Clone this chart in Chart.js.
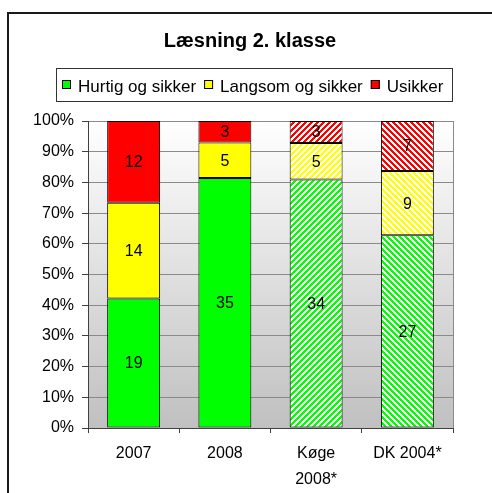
<!DOCTYPE html>
<html>
<head>
<meta charset="utf-8">
<script src="https://cdn.jsdelivr.net/npm/chart.js@4/dist/chart.umd.min.js"></script>
<style>
  html, body { margin: 0; padding: 0; background: #fff; }
  canvas { display: block; }
</style>
</head>
<body>
<canvas id="chart" width="492" height="493"></canvas>
<script>
'use strict';

// counts
const categories = ['2007', '2008', ['Køge', '2008*'], 'DK 2004*'];
const hurtig = [19, 35, 34, 27];
const langsom = [14, 5, 5, 9];
const usikker = [12, 3, 3, 7];
const seriesNames = ['Hurtig og sikker', 'Langsom og sikker', 'Usikker'];
const seriesColors = ['#00ff00', '#ffff00', '#ff0000'];
const hatchKinds = [null, null, 'up', 'down'];
const chartTitle = 'Læsning 2. klasse';

const FONT = 'Arial, "Liberation Sans", sans-serif';
const canvas = document.getElementById('chart');
const ctx = canvas.getContext('2d');

function hatch(color, dir) {
    const size = 6;
    const tile = document.createElement('canvas');
    tile.width = tile.height = size;
    const g = tile.getContext('2d');
    g.fillStyle = '#fff';
    g.fillRect(0, 0, size, size);
    g.fillStyle = color;
    for (let y = 0; y < size; y++) {
        for (let x = 0; x < size; x++) {
            const k = dir === 'up' ? x + y : x - y + size;
            if (k % size < 3) g.fillRect(x, y, 1, 1);
        }
    }
    return ctx.createPattern(tile, 'repeat');
}

function fills(color) {
    return hatchKinds.map(kind => kind ? hatch(color, kind) : color);
}

const totals = hurtig.map((v, i) => v + langsom[i] + usikker[i]);
const counts = [hurtig, langsom, usikker];
const percent = arr => arr.map((v, i) => v / totals[i] * 100);

const frameAndText = {
    id: 'frameAndText',
    beforeDraw(chart) {
        const { ctx, chartArea: a } = chart;
        const grad = ctx.createLinearGradient(0, a.top, 0, a.bottom);
        grad.addColorStop(0, '#ffffff');
        grad.addColorStop(1, '#c0c0c0');
        ctx.save();
        ctx.fillStyle = grad;
        ctx.fillRect(a.left, a.top, a.right - a.left, a.bottom - a.top);
        ctx.restore();
    },
    afterDatasetsDraw(chart) {
        const { ctx } = chart;
        ctx.save();
        ctx.fillStyle = '#000';
        ctx.font = '16px ' + FONT;
        ctx.textAlign = 'center';
        ctx.textBaseline = 'middle';
        chart.data.datasets.forEach((ds, di) => {
            chart.getDatasetMeta(di).data.forEach((bar, i) => {
                ctx.fillText(String(counts[di][i]), bar.x, (bar.y + bar.base) / 2 + 1);
            });
        });
        ctx.restore();
    },
    afterDraw(chart) {
        const { ctx, chartArea: a } = chart;
        ctx.save();
        // right edge of plot area
        ctx.strokeStyle = '#8a8a8a';
        ctx.lineWidth = 1;
        ctx.beginPath();
        ctx.moveTo(Math.round(a.right) + 0.5, a.top);
        ctx.lineTo(Math.round(a.right) + 0.5, a.bottom);
        ctx.stroke();

        // outer frame (runs off the right and bottom)
        ctx.fillStyle = '#1a1a1a';
        ctx.fillRect(7, 12, 485, 2);
        ctx.fillRect(7, 12, 2, 481);

        // title
        ctx.fillStyle = '#000';
        ctx.font = 'bold 20px ' + FONT;
        ctx.textAlign = 'center';
        ctx.textBaseline = 'alphabetic';
        ctx.fillText(chartTitle, 250, 47);

        // legend
        ctx.font = '17px ' + FONT;
        ctx.textAlign = 'left';
        let x = 62;
        seriesNames.forEach((name, i) => {
            ctx.fillStyle = seriesColors[i];
            ctx.fillRect(x, 80, 9, 9);
            ctx.strokeStyle = '#000';
            ctx.strokeRect(x + 0.5, 80.5, 8, 8);
            ctx.fillStyle = '#000';
            ctx.fillText(name, x + 16, 91.5);
            x += 16 + ctx.measureText(name).width + 8;
        });
        ctx.strokeStyle = '#333';
        ctx.strokeRect(56.5, 68.5, 396, 33);
        ctx.restore();
    }
};

new Chart(canvas, {
    type: 'bar',
    data: {
        labels: categories,
        datasets: seriesNames.map((name, i) => ({
            label: name,
            data: percent(counts[i]),
            backgroundColor: fills(seriesColors[i]),
            borderColor: '#000',
            borderWidth: 1,
            borderSkipped: false,
            barPercentage: 0.58,
            categoryPercentage: 1
        }))
    },
    options: {
        responsive: false,
        animation: false,
        devicePixelRatio: 1,
        layout: { padding: { top: 121, right: 39, bottom: 0, left: 0 } },
        plugins: {
            legend: { display: false },
            title: { display: false },
            tooltip: { enabled: false }
        },
        scales: {
            x: {
                stacked: true,
                afterFit(scale) { scale.height = 65; },
                grid: {
                    drawOnChartArea: false,
                    offset: true,
                    tickLength: 5,
                    tickColor: '#404040'
                },
                border: { color: '#404040' },
                ticks: {
                    color: '#000',
                    padding: 8,
                    maxRotation: 0,
                    autoSkip: false,
                    font: { family: FONT, size: 16, lineHeight: 1.6 }
                }
            },
            y: {
                stacked: true,
                min: 0,
                max: 100,
                afterFit(scale) { scale.width = 88; },
                grid: {
                    color: '#8a8a8a',
                    tickColor: '#404040',
                    tickLength: 6
                },
                border: { color: '#404040' },
                ticks: {
                    stepSize: 10,
                    color: '#000',
                    padding: 8,
                    font: { family: FONT, size: 16 },
                    callback: v => v + '%'
                }
            }
        }
    },
    plugins: [frameAndText]
});
</script>
</body>
</html>
